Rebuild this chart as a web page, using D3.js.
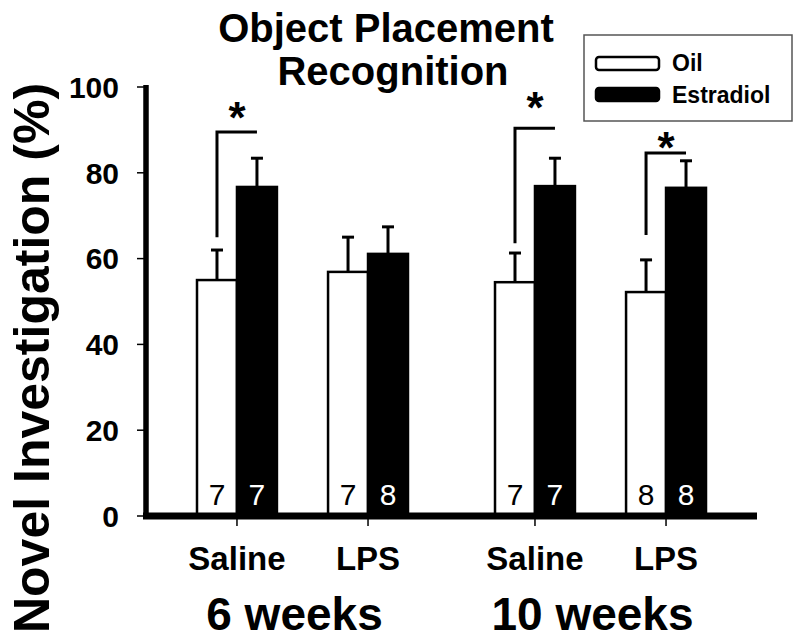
<!DOCTYPE html>
<html>
<head>
<meta charset="utf-8">
<script src="https://cdn.jsdelivr.net/npm/d3@7"></script>
<style>
  html, body { margin: 0; padding: 0; background: #fff; }
  svg { display: block; }
  text { font-family: "Liberation Sans", Arial, sans-serif; }
</style>
</head>
<body>
<svg id="chart" width="800" height="644"></svg>
<script>
// ---- data ----
const ages = ["6 weeks", "10 weeks"];
const treatments = ["Saline", "LPS"];
const hormones = ["Oil", "Estradiol"];
const oilMeans = [55.0, 56.9, 54.5, 52.2];
const oilSEM   = [7.0, 8.1, 6.8, 7.5];
const estMeans = [76.7, 61.1, 76.9, 76.5];
const estSEM   = [6.7, 6.3, 6.5, 6.3];
const oilN = [7, 7, 7, 8];
const estN = [7, 8, 7, 8];
const yTicks = [0, 20, 40, 60, 80, 100];
// significance brackets: group index, bracket low / high, asterisk level (data units)
const sigGroup = [0, 2, 3];
const sigLow   = [65.0, 63.6, 65.5];
const sigHigh  = [89.5, 90.4, 84.6];
const sigStar  = [95.1, 97.4, 88.1];

const title = ["Object Placement", "Recognition"];
const yTitle = "Novel Investigation (%)";

// ---- build rows ----
const rows = [];
for (let i = 0; i < 4; i++) {
  const age = ages[Math.floor(i / 2)], tr = treatments[i % 2];
  rows.push({ i, age, tr, h: "Oil", mean: oilMeans[i], sem: oilSEM[i], n: oilN[i] });
  rows.push({ i, age, tr, h: "Estradiol", mean: estMeans[i], sem: estSEM[i], n: estN[i] });
}

const svg = d3.select("#chart");

// ---- scales ----
const x0 = d3.scaleBand().domain(ages).range([197, 706]).paddingInner(0.292).paddingOuter(0);
const x1 = d3.scaleBand().domain(treatments).range([0, x0.bandwidth()]).paddingInner(0.39).paddingOuter(0);
const x2 = d3.scaleBand().domain(hormones).range([0, x1.bandwidth()]).padding(0);
const y = d3.scaleLinear().domain([0, 100]).range([516, 87]);

const barX = d => x0(d.age) + x1(d.tr) + x2(d.h);
const barC = d => barX(d) + x2.bandwidth() / 2;
const groupC = (age, tr) => x0(age) + x1(tr) + x1.bandwidth() / 2;

// ---- title ----
svg.append("text").attr("x", 386).attr("y", 42).attr("text-anchor", "middle")
  .attr("font-size", 40).attr("font-weight", "bold").text(title[0]);
svg.append("text").attr("x", 393).attr("y", 85).attr("text-anchor", "middle")
  .attr("font-size", 40).attr("font-weight", "bold").text(title[1]);

// ---- bars ----
svg.append("g").selectAll("rect").data(rows).join("rect")
  .attr("x", d => barX(d))
  .attr("y", d => y(d.mean))
  .attr("width", x2.bandwidth())
  .attr("height", d => y(0) - y(d.mean))
  .attr("fill", d => d.h === "Oil" ? "#fff" : "#000")
  .attr("stroke", "#000")
  .attr("stroke-width", 2.5);

// ---- error bars ----
const eg = svg.append("g").attr("stroke", "#000").attr("stroke-width", 3);
eg.selectAll("line.v").data(rows).join("line").attr("class", "v")
  .attr("x1", barC).attr("x2", barC)
  .attr("y1", d => y(d.mean)).attr("y2", d => y(d.mean + d.sem));
eg.selectAll("line.c").data(rows).join("line").attr("class", "c")
  .attr("x1", d => barC(d) - 6).attr("x2", d => barC(d) + 6)
  .attr("y1", d => y(d.mean + d.sem)).attr("y2", d => y(d.mean + d.sem));

// ---- n labels ----
svg.append("g").selectAll("text").data(rows).join("text")
  .attr("x", barC).attr("y", y(0) - 11)
  .attr("text-anchor", "middle").attr("font-size", 30)
  .attr("fill", d => d.h === "Oil" ? "#000" : "#fff")
  .text(d => d.n);

// ---- significance brackets ----
sigGroup.forEach((gi, k) => {
  const age = ages[Math.floor(gi / 2)], tr = treatments[gi % 2];
  const xo = x0(age) + x1(tr) + x2("Oil") + x2.bandwidth() / 2;
  const xe = x0(age) + x1(tr) + x2("Estradiol") + x2.bandwidth() / 2;
  svg.append("path")
    .attr("d", `M${xo},${y(sigLow[k])}V${y(sigHigh[k])}H${xe}`)
    .attr("fill", "none").attr("stroke", "#000").attr("stroke-width", 3);
  svg.append("text").attr("x", groupC(age, tr)).attr("y", y(sigStar[k]) + 25)
    .attr("text-anchor", "middle").attr("font-size", 44).attr("font-weight", "bold")
    .text("*");
});

// ---- y axis ----
const yg = svg.append("g");
yg.selectAll("line").data(yTicks).join("line")
  .attr("x1", 137).attr("x2", 145).attr("y1", d => y(d)).attr("y2", d => y(d))
  .attr("stroke", "#000").attr("stroke-width", 1.5);
yg.selectAll("text").data(yTicks).join("text")
  .attr("x", 119).attr("y", d => y(d)).attr("dy", "0.36em")
  .attr("text-anchor", "end").attr("font-size", 30).attr("font-weight", "bold")
  .text(d => d);
svg.append("line").attr("x1", 146).attr("x2", 146).attr("y1", 85).attr("y2", 519)
  .attr("stroke", "#000").attr("stroke-width", 5.5);

// ---- x axis ----
const tickPos = [];
ages.forEach(a => treatments.forEach(t => tickPos.push({ a, t })));
svg.append("g").selectAll("line").data(tickPos).join("line")
  .attr("x1", d => groupC(d.a, d.t)).attr("x2", d => groupC(d.a, d.t))
  .attr("y1", 516).attr("y2", 526).attr("stroke", "#000").attr("stroke-width", 1.5);
svg.append("line").attr("x1", 143).attr("x2", 757).attr("y1", 516).attr("y2", 516)
  .attr("stroke", "#000").attr("stroke-width", 7);

svg.append("g").selectAll("text").data(tickPos).join("text")
  .attr("x", d => groupC(d.a, d.t)).attr("y", 570)
  .attr("text-anchor", "middle").attr("font-size", 33).attr("font-weight", "bold")
  .text(d => d.t);
svg.append("g").selectAll("text").data(ages).join("text")
  .attr("x", d => x0(d) + x0.bandwidth() / 2 - 8).attr("y", 630)
  .attr("text-anchor", "middle").attr("font-size", 46).attr("font-weight", "bold")
  .text(d => d);

// ---- y title ----
svg.append("text").attr("transform", "translate(49,358) rotate(-90)")
  .attr("text-anchor", "middle").attr("font-size", 50).attr("font-weight", "bold")
  .text(yTitle);

// ---- legend ----
const lg = svg.append("g");
lg.append("rect").attr("x", 584).attr("y", 35).attr("width", 208).attr("height", 86)
  .attr("fill", "#fff").attr("stroke", "#555").attr("stroke-width", 1.5);
lg.selectAll("rect.sw").data(hormones).join("rect").attr("class", "sw")
  .attr("x", 596).attr("y", (d, i) => 57 + i * 31).attr("width", 63).attr("height", 13)
  .attr("rx", 3)
  .attr("fill", d => d === "Oil" ? "#fff" : "#000")
  .attr("stroke", "#000").attr("stroke-width", 2.5);
lg.selectAll("text").data(hormones).join("text")
  .attr("x", 672).attr("y", (d, i) => 71 + i * 32)
  .attr("font-size", 23).attr("font-weight", "bold").text(d => d);
</script>
</body>
</html>
